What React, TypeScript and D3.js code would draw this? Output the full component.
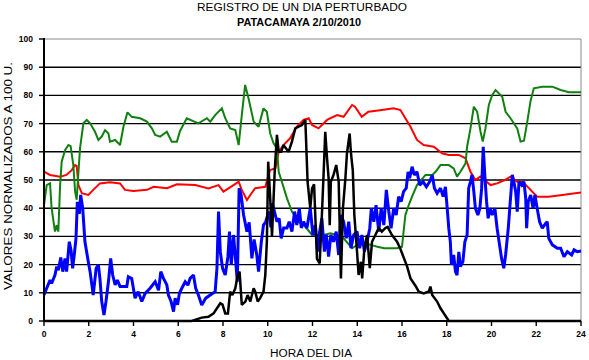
import React from "react";
import * as d3 from "d3";

const title1 = "REGISTRO DE UN DIA PERTURBADO";
const title2 = "PATACAMAYA 2/10/2010";
const yLabel = "VALORES NORMALIZADOS A 100 U.";
const xLabel = "HORA DEL DIA";
const xTicks = [0, 2, 4, 6, 8, 10, 12, 14, 16, 18, 20, 22, 24];
const yTicks = [0, 10, 20, 30, 40, 50, 60, 70, 80, 90, 100];

const redSeries: [number, number][] = [[0,53],[0.27,51.8],[0.72,51.2],[1.0,51.8],[1.24,53.5],[1.39,55.3],[1.46,55],[1.54,48.2],[1.69,45.3],[1.98,44.7],[2.2,46.5],[2.5,48.8],[2.95,49.2],[3.4,48.8],[3.62,46.5],[4.0,46.1],[4.6,46.5],[4.9,47.6],[5.5,47.1],[5.94,48.5],[6.76,48.2],[7.35,47.0],[7.8,48.2],[8.02,45.9],[8.47,48.2],[8.7,49.4],[8.84,46.5],[9.07,42.9],[9.22,44.7],[9.44,47.1],[9.89,47.6],[10.1,53.5],[10.34,54.1],[10.49,60],[10.7,62.4],[11.0,64.8],[11.3,68.9],[11.6,71.3],[11.83,71.9],[11.98,69.5],[12.27,68.3],[12.65,71.3],[13.1,73],[13.39,72.4],[13.77,76.6],[13.9,76],[14.2,72.4],[14.5,74.2],[15.1,74.8],[15.63,75.4],[15.93,74.8],[16.15,71.9],[16.38,68.9],[16.67,64.2],[16.97,62.4],[17.42,61.8],[17.79,59.5],[18.09,58.9],[18.54,58.9],[18.84,57.7],[19.06,52.9],[19.28,50],[19.5,51.2],[19.96,48.2],[20.25,48.8],[20.6,50],[20.85,51.2],[21.15,49.4],[21.38,49.5],[21.67,47.1],[22.04,44.1],[22.56,44.1],[23.16,44.7],[24,45.6]];

const greenSeries: [number, number][] = [[0,41.1],[0.12,48.2],[0.27,48.8],[0.34,40],[0.49,31.7],[0.57,34],[0.64,31.7],[0.72,48.2],[0.79,56.5],[0.94,60.6],[1.09,62.4],[1.19,62],[1.31,55.3],[1.39,45.9],[1.46,43],[1.54,52.9],[1.61,61.2],[1.76,70.1],[1.91,71.3],[2.06,70.1],[2.28,67.1],[2.43,64.2],[2.58,65.4],[2.73,67.7],[2.88,66.5],[2.95,63.6],[3.18,64.2],[3.4,62.4],[3.55,68.9],[3.73,74],[3.92,72.4],[4.3,71.9],[4.6,70.7],[4.82,68.3],[4.97,66],[5.19,65.4],[5.49,67.1],[5.71,63.6],[5.94,63.6],[6.08,67.4],[6.38,71.9],[6.9,70.1],[7.28,71.9],[7.43,70.7],[7.65,73],[7.95,75.4],[8.1,71.9],[8.32,68.3],[8.55,67.7],[8.7,62.4],[8.84,73],[8.99,83.7],[9.14,79],[9.37,70.7],[9.59,68.9],[9.81,75.4],[9.96,74.2],[10.11,66.5],[10.26,63],[10.41,61.2],[10.49,52.9],[10.63,49.4],[10.86,43.5],[11.08,38.8],[11.38,35.2],[11.68,33.4],[11.98,30.5],[12.5,30.5],[12.8,31.1],[13.1,30.5],[13.39,29.3],[13.77,25.8],[14.21,28.1],[14.6,27],[14.9,26.3],[15.2,25.8],[15.78,25.8],[16.0,26.3],[16.15,37.6],[16.3,41.1],[16.45,44.1],[16.67,48.2],[17.05,51.8],[17.35,51.8],[17.5,52.9],[17.72,55.3],[18.09,55.3],[18.31,54.1],[18.46,51.2],[18.61,52.9],[18.84,55.9],[18.91,61.8],[19.06,68.3],[19.21,76],[19.36,74.2],[19.51,67.1],[19.61,63.6],[19.73,68.3],[19.88,76.6],[20.03,80.1],[20.18,81.9],[20.48,79.5],[20.63,74.2],[20.85,71.9],[21.15,68.3],[21.3,63.6],[21.45,63.9],[21.6,70.7],[21.74,77.8],[21.89,82.5],[22.27,83.1],[22.72,83.1],[23.09,81.9],[23.46,81.1],[24,81.1]];

const blueSeries: [number, number][] = [[0,9.2],[0.12,11.6],[0.27,14.5],[0.34,13.3],[0.49,16.3],[0.57,19.3],[0.64,18],[0.75,22.5],[0.84,17.5],[0.94,22.2],[1.01,17.5],[1.13,28.1],[1.21,25],[1.28,18.7],[1.36,24],[1.43,29.3],[1.49,42.3],[1.58,38],[1.64,44.7],[1.73,40],[1.83,28.1],[1.98,21],[2.06,17.5],[2.2,9.2],[2.33,18.7],[2.43,19.9],[2.5,15],[2.58,6.9],[2.68,2.1],[2.77,6.9],[2.88,13.9],[2.98,22.2],[3.07,16.3],[3.18,12.8],[3.28,14.5],[3.4,12.2],[3.7,12.2],[3.77,15.7],[3.92,15.1],[4.07,8.1],[4.21,10.4],[4.37,6.9],[4.52,9.8],[4.74,11.6],[4.97,13.9],[5.12,10.9],[5.22,17.5],[5.34,15.1],[5.49,12.8],[5.56,9.2],[5.68,6.9],[5.79,3.3],[5.86,8.1],[5.97,5.8],[6.05,9.8],[6.16,11.6],[6.31,13.9],[6.43,12.7],[6.53,15.1],[6.68,16.3],[6.78,11.6],[6.9,9.2],[7.05,5.7],[7.23,8.1],[7.43,9.2],[7.65,10.4],[7.73,18.7],[7.8,38.8],[7.88,24.5],[7.98,18.7],[8.1,16.3],[8.22,22.8],[8.29,31.7],[8.37,19.9],[8.47,30.5],[8.57,21],[8.64,13.9],[8.72,47.1],[8.81,44.7],[8.92,37.6],[9.07,31.7],[9.17,35],[9.29,22.2],[9.39,28.9],[9.51,23.4],[9.59,17.5],[9.71,27.9],[9.81,34],[9.91,35.2],[10.04,38.8],[10.14,33.2],[10.21,41.7],[10.3,38.8],[10.41,35.2],[10.51,36.4],[10.6,29.3],[10.71,33],[10.86,33],[10.96,35.2],[11.08,31.7],[11.2,38.8],[11.3,34],[11.41,40],[11.5,33],[11.6,35.2],[11.75,33],[11.9,40],[12.02,30.5],[12.13,34],[12.23,24.6],[12.32,31.7],[12.42,36.4],[12.53,24.6],[12.62,30.5],[12.72,22.8],[12.82,30.5],[12.94,28.1],[13.06,31.7],[13.17,23.4],[13.27,37.6],[13.39,35.2],[13.51,29.3],[13.62,35.2],[13.72,25.8],[13.84,30.5],[13.99,31.7],[14.11,25.8],[14.21,30.5],[14.32,24.6],[14.44,28.1],[14.56,32.9],[14.63,40],[14.74,35.2],[14.84,41.1],[14.96,31.7],[15.07,40],[15.19,34],[15.3,46.5],[15.41,38.8],[15.51,32.9],[15.63,40],[15.74,37.6],[15.85,44.1],[15.96,42.3],[16.07,45.9],[16.19,47.1],[16.27,52.9],[16.34,50.6],[16.45,54.7],[16.55,51.8],[16.67,52.9],[16.79,48.2],[16.94,49.4],[17.09,47.6],[17.24,49.4],[17.35,51.8],[17.45,47.1],[17.57,45.3],[17.72,47.1],[17.84,44.1],[17.94,47.6],[18.02,40],[18.09,32.9],[18.16,28.1],[18.21,19.9],[18.31,23.4],[18.39,17.5],[18.46,16.3],[18.54,24.5],[18.61,19.3],[18.72,21],[18.81,28.1],[18.91,30.5],[18.98,47.1],[19.06,49.4],[19.13,51.8],[19.21,45.9],[19.28,40],[19.39,37.6],[19.48,40],[19.56,47.1],[19.63,61.8],[19.7,51.8],[19.78,42.3],[19.85,36.4],[19.93,40],[20.03,37.6],[20.15,40],[20.25,32.9],[20.36,27],[20.45,22.2],[20.55,18.7],[20.63,23.4],[20.75,32.9],[20.85,43.5],[20.93,51.8],[21.0,49.4],[21.08,45.9],[21.15,38.8],[21.23,49.4],[21.35,48.2],[21.45,49.4],[21.53,43.5],[21.57,32.9],[21.64,42.3],[21.75,44.7],[21.86,40],[21.94,44.7],[22.04,40],[22.15,35.2],[22.27,32.9],[22.42,34.6],[22.49,35.2],[22.56,29.3],[22.72,27],[22.94,25.8],[23.09,25.8],[23.24,22.8],[23.39,24.6],[23.58,23.4],[23.69,25.2],[23.83,24.6],[24,24.8]];

const blackSeries: [number, number][] = [[0,0],[6.6,0],[7.05,1.2],[7.35,1.5],[7.58,2.7],[7.73,4.5],[7.88,6.3],[7.98,5.8],[8.1,2.7],[8.22,2.7],[8.32,10.4],[8.42,9.2],[8.55,11.6],[8.66,16.3],[8.74,17.5],[8.84,5.7],[9.0,6.9],[9.1,9.2],[9.22,6.9],[9.37,11.6],[9.44,10.4],[9.55,6.9],[9.66,8.1],[9.81,10.4],[9.89,16.3],[9.96,28.1],[10.02,56.5],[10.1,45],[10.19,30],[10.31,52.9],[10.41,66],[10.49,60],[10.6,60],[10.7,62.4],[10.93,60],[11.08,63.6],[11.23,68.3],[11.38,68.9],[11.53,69.5],[11.68,71.3],[11.78,49.4],[11.9,40],[11.98,47],[12.07,48.5],[12.2,22],[12.32,20.4],[12.42,37.6],[12.5,52.9],[12.57,67.1],[12.65,57.7],[12.72,50.6],[12.77,34],[12.82,49.4],[12.94,51.8],[13.06,55.3],[13.17,49.4],[13.27,15.1],[13.36,40],[13.47,50.6],[13.54,59.4],[13.66,66.5],[13.72,59.4],[13.8,53.5],[13.87,37.6],[13.99,24.6],[14.06,16.3],[14.16,21],[14.22,15.1],[14.32,25.8],[14.44,30.5],[14.56,18.7],[14.66,28.1],[14.81,30.5],[14.96,33],[15.1,31.7],[15.26,33],[15.36,33.4],[15.55,30.5],[15.78,28.1],[15.93,25.5],[16.23,19.3],[16.38,15.1],[16.6,12.5],[16.75,10.4],[16.97,9.8],[17.2,10.5],[17.27,12.2],[17.35,9.2],[17.57,6.9],[17.72,4.5],[17.87,2.7],[18.02,0.9],[18.09,0],[24,0]];

const seriesList = [
  { data: redSeries, color: "#ff0000", width: 2 },
  { data: greenSeries, color: "#108010", width: 2 },
  { data: blueSeries, color: "#0000ff", width: 3 },
  { data: blackSeries, color: "#000000", width: 2.5 },
];

const W = 589;
const H = 360;
const left = 44;
const right = 581;
const top = 39;
const bottom = 321;

export default function App() {
  const x = d3.scaleLinear().domain([0, 24]).range([left, right]);
  const y = d3.scaleLinear().domain([0, 100]).range([bottom, top]);
  const line = d3
    .line<[number, number]>()
    .x((d) => x(d[0]))
    .y((d) => y(d[1]));
  const font = "'Liberation Sans', Arial, sans-serif";

  return (
    <div style={{ position: "absolute", left: 0, top: 0 }}>
      <svg width={W} height={H} style={{ display: "block", background: "#fff" }}>
        <text x={302} y={11} textAnchor="middle" fontFamily={font} fontSize={10} textLength={210} lengthAdjust="spacingAndGlyphs">{title1}</text>
        <text x={299} y={26} textAnchor="middle" fontFamily={font} fontSize={10} fontWeight="bold" textLength={124} lengthAdjust="spacingAndGlyphs">{title2}</text>

        {yTicks.filter((t) => t > 0 && t < 100).map((t) => (
          <line key={"g" + t} x1={left} x2={right} y1={y(t)} y2={y(t)} stroke="#000" strokeWidth={1.4} />
        ))}
        <line x1={left} x2={right} y1={y(100)} y2={y(100)} stroke="#888" strokeWidth={1} />
        <line x1={right} x2={right} y1={y(100)} y2={y(0)} stroke="#888" strokeWidth={1} />

        {seriesList.map((s, i) => (
          <path key={i} d={line(s.data) || ""} fill="none" stroke={s.color} strokeWidth={s.width} strokeLinejoin="miter" strokeMiterlimit={2} />
        ))}

        <line x1={left} x2={left} y1={y(100) - 1} y2={y(0) + 1} stroke="#000" strokeWidth={2} />
        <line x1={left} x2={right} y1={y(0)} y2={y(0)} stroke="#000" strokeWidth={2} />
        {yTicks.map((t) => (
          <g key={"y" + t}>
            <line x1={left - 5} x2={left} y1={y(t)} y2={y(t)} stroke="#000" strokeWidth={1.4} />
            <text x={33} y={y(t) + 3} textAnchor="end" fontFamily={font} fontSize={8.5} fontWeight="bold">{t}</text>
          </g>
        ))}
        {xTicks.map((t) => (
          <g key={"x" + t}>
            <line x1={x(t)} x2={x(t)} y1={y(0)} y2={y(0) + 5} stroke="#000" strokeWidth={1.4} />
            <text x={x(t)} y={337} textAnchor="middle" fontFamily={font} fontSize={8.5} fontWeight="bold">{t}</text>
          </g>
        ))}

        <text x={311} y={357} textAnchor="middle" fontFamily={font} fontSize={10} textLength={82} lengthAdjust="spacingAndGlyphs">{xLabel}</text>
        <text transform="translate(12,176) rotate(-90)" textAnchor="middle" fontFamily={font} fontSize={10} textLength={228} lengthAdjust="spacingAndGlyphs">{yLabel}</text>
      </svg>
    </div>
  );
}
